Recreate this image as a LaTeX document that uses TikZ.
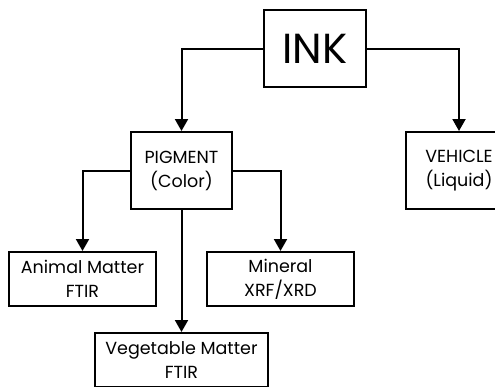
\documentclass[tikz,border=0pt]{standalone}
\usepackage{fontspec}
\setmainfont{Poppins}
\usetikzlibrary{arrows.meta}

\begin{document}
\begin{tikzpicture}[x=1pt,y=-1pt,
    box/.style={draw,line width=2pt,align=center,inner sep=0pt,
      font=\fontsize{17.5}{24}\selectfont},
    arr/.style={-{Triangle[length=12pt,width=13pt]},line width=2pt}
  ]
    \clip (0,0) rectangle (495,386);
    \node[box,minimum width=102pt,minimum height=77pt,
      font=\fontsize{42}{42}\selectfont] (ink) at (315,48.5) {INK};
    \node[box,minimum width=101pt,minimum height=77pt] (pig) at (181.5,170.5)
      {PIGMENT\\(Color)};
    \node[box,minimum width=106pt,minimum height=77pt] (veh) at (459,170.5)
      {VEHICLE\\(Liquid)};
    \node[box,minimum width=147pt,minimum height=54pt] (anim) at (82.5,279)
      {Animal Matter\\FTIR};
    \node[box,minimum width=147pt,minimum height=54pt] (mine) at (280.5,279)
      {Mineral\\XRF/XRD};
    \node[box,minimum width=173pt,minimum height=54pt] (vege) at (181.5,360)
      {Vegetable Matter\\FTIR};
    \draw[arr] (ink.west) -| (pig.north);
    \draw[arr] (ink.east) -| (veh.north);
    \draw[arr] (pig.west) -| (anim.north);
    \draw[arr] (pig.east) -| (mine.north);
    \draw[arr] (pig.south) -- (vege.north);
  \end{tikzpicture}
\end{document}
